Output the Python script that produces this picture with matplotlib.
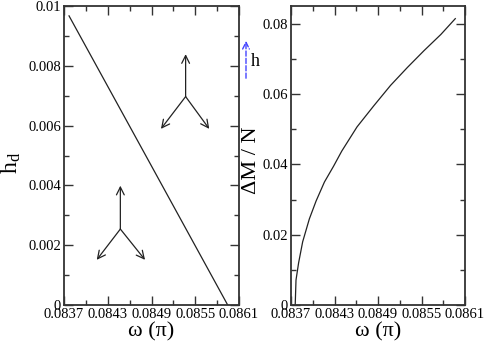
import matplotlib
matplotlib.use("Agg")
import matplotlib.pyplot as plt
from matplotlib.patches import FancyArrowPatch
from matplotlib.ticker import MultipleLocator, FixedFormatter, FixedLocator

plt.rcParams['font.family'] = ['Liberation Serif', 'DejaVu Serif']
plt.rcParams['mathtext.fontset'] = 'stix'

# left panel: critical field h_d vs omega
omega_hd = [0.083769, 0.084850, 0.085945]
hd = [0.00967, 0.00487, 0.0]

# right panel: magnetisation jump vs omega
omega_dm = [0.083758, 0.083769, 0.083805, 0.083861, 0.083953, 0.084046, 0.084161,
            0.084287, 0.084400, 0.084611, 0.084842, 0.085073, 0.085305, 0.085535,
            0.085767, 0.085966]
dm = [0.0, 0.0071, 0.0120, 0.0180, 0.0245, 0.0296, 0.0350,
      0.0395, 0.0438, 0.0507, 0.0567, 0.0625, 0.0676, 0.0724,
      0.0770, 0.0815]

xticks = [0.0837, 0.0843, 0.0849, 0.0855, 0.0861]
xticklabels = ["0.0837", "0.0843", "0.0849", "0.0855", "0.0861"]
hd_ticks = [0, 0.002, 0.004, 0.006, 0.008, 0.01]
hd_ticklabels = ["0", "0.002", "0.004", "0.006", "0.008", "0.01"]
dm_ticks = [0, 0.02, 0.04, 0.06, 0.08]
dm_ticklabels = ["0", "0.02", "0.04", "0.06", "0.08"]

W, H = 485, 346
fig = plt.figure(figsize=(W / 100, H / 100), dpi=100)

def box(x0, y0, x1, y1):
    return [x0 / W, (H - y1) / H, (x1 - x0) / W, (y1 - y0) / H]

ax1 = fig.add_axes(box(64, 6, 239, 305))
ax2 = fig.add_axes(box(291, 6, 465, 305))

line_col = '#222222'
for ax in (ax1, ax2):
    ax.set_xlim(0.0837, 0.0861)
    ax.xaxis.set_major_locator(FixedLocator(xticks))
    ax.xaxis.set_major_formatter(FixedFormatter(xticklabels))
    ax.xaxis.set_minor_locator(MultipleLocator(0.0003))
    ax.tick_params(which='both', direction='in', top=True, right=True,
                   labelsize=10.5, color='#333333', width=1.0, pad=2)
    ax.tick_params(which='major', length=6.5)
    ax.tick_params(which='minor', length=3.5)
    for s in ax.spines.values():
        s.set_linewidth(1.3)
        s.set_color('#333333')
    ax.set_xlabel('ω (π)', fontsize=16, labelpad=1)

ax1.plot(omega_hd, hd, color=line_col, lw=0.9)
ax1.set_ylim(0, 0.01)
ax1.yaxis.set_major_locator(FixedLocator(hd_ticks))
ax1.yaxis.set_major_formatter(FixedFormatter(hd_ticklabels))
ax1.yaxis.set_minor_locator(MultipleLocator(0.001))
ax1.set_ylabel(r'h$_\mathregular{d}$', fontsize=17)
ax1.yaxis.set_label_coords(-0.235, 0.475)

ax2.plot(omega_dm, dm, color=line_col, lw=0.9)
ax2.set_ylim(0, 0.0851)
ax2.yaxis.set_major_locator(FixedLocator(dm_ticks))
ax2.yaxis.set_major_formatter(FixedFormatter(dm_ticklabels))
ax2.yaxis.set_minor_locator(MultipleLocator(0.01))
ax2.set_ylabel('ΔM / N', fontsize=16)
ax2.yaxis.set_label_coords(-0.175, 0.485)

# spin icons in left panel (axes fraction)
arrow_kw = dict(arrowstyle='->', color='#222222', lw=0.9, mutation_scale=14,
                shrinkA=0, shrinkB=0)
icons = [((0.695, 0.697), [(0.695, 0.839), (0.554, 0.589), (0.830, 0.589)]),
         ((0.322, 0.254), [(0.322, 0.399), (0.187, 0.151), (0.463, 0.151)])]
for centre, tips in icons:
    for tip in tips:
        ax1.annotate('', xy=tip, xytext=centre, xycoords='axes fraction',
                     textcoords='axes fraction', arrowprops=arrow_kw)

# field direction arrow between panels
fig.patches.append(FancyArrowPatch(
    (246 / W, (H - 81) / H), (246 / W, (H - 38) / H), transform=fig.transFigure,
    arrowstyle='->', mutation_scale=12, color='#4444ff', lw=1.0, linestyle='--'))
fig.text(251 / W, (H - 62) / H, 'h', fontsize=13, va='center', ha='left')

fig.savefig('out.png', dpi=100)
